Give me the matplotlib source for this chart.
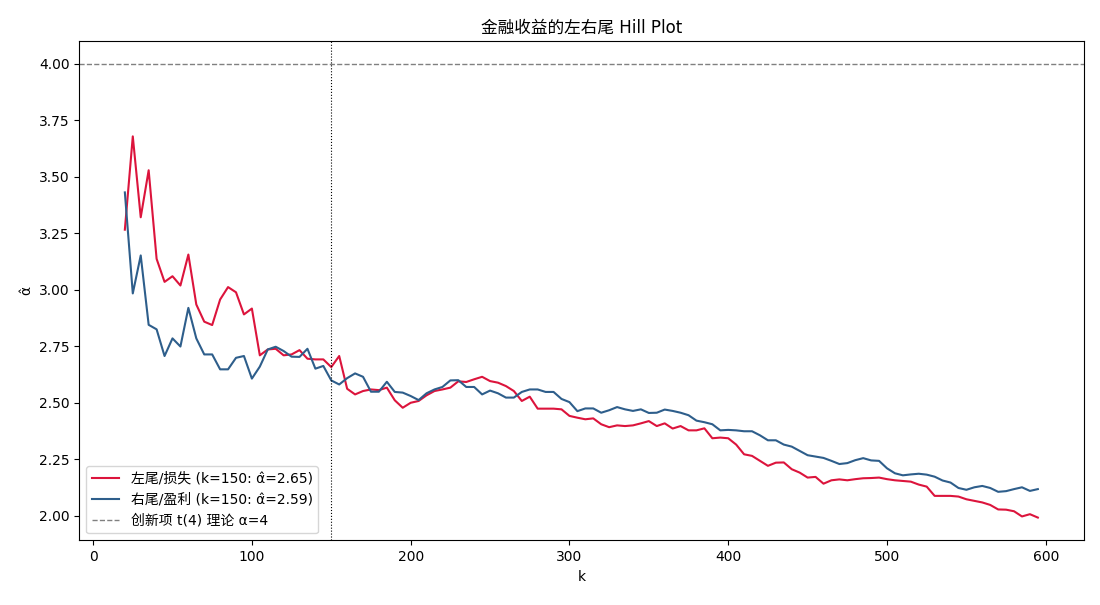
import numpy as np
import matplotlib
matplotlib.use('Agg')
import matplotlib.pyplot as plt

plt.rcParams['font.family'] = ['DejaVu Sans', 'Noto Sans CJK SC']
plt.rcParams['axes.unicode_minus'] = False

# k 从 20 到 595, 步长 5
k = np.arange(20, 600, 5)

# 左尾 / 损失 的 Hill 估计
left_alpha = [
    3.266, 3.679, 3.321, 3.529, 3.137, 3.035, 3.060, 3.019, 3.156, 2.935,
    2.859, 2.844, 2.957, 3.012, 2.989, 2.891, 2.917, 2.710, 2.736, 2.739,
    2.710, 2.714, 2.733, 2.695, 2.692, 2.692, 2.658, 2.707, 2.562, 2.537,
    2.552, 2.559, 2.556, 2.567, 2.511, 2.478, 2.500, 2.508, 2.533, 2.552,
    2.559, 2.567, 2.595, 2.592, 2.604, 2.615, 2.596, 2.589, 2.574, 2.552,
    2.508, 2.527, 2.474, 2.474, 2.474, 2.471, 2.442, 2.434, 2.427, 2.431,
    2.405, 2.392, 2.400, 2.397, 2.400, 2.409, 2.419, 2.397, 2.409, 2.386,
    2.397, 2.378, 2.378, 2.387, 2.343, 2.346, 2.343, 2.315, 2.272, 2.265,
    2.243, 2.221, 2.235, 2.236, 2.206, 2.191, 2.169, 2.172, 2.142, 2.157,
    2.161, 2.157, 2.162, 2.166, 2.167, 2.169, 2.162, 2.157, 2.154, 2.151,
    2.138, 2.129, 2.088, 2.088, 2.088, 2.085, 2.073, 2.066, 2.059, 2.048,
    2.028, 2.027, 2.020, 1.997, 2.007, 1.992,
]

# 右尾 / 盈利 的 Hill 估计
right_alpha = [
    3.431, 2.984, 3.152, 2.845, 2.825, 2.707, 2.785, 2.749, 2.920, 2.785,
    2.714, 2.714, 2.648, 2.648, 2.699, 2.707, 2.607, 2.660, 2.736, 2.748,
    2.729, 2.704, 2.703, 2.739, 2.651, 2.663, 2.599, 2.581, 2.609, 2.630,
    2.615, 2.549, 2.549, 2.593, 2.548, 2.545, 2.530, 2.512, 2.542, 2.559,
    2.570, 2.599, 2.600, 2.570, 2.570, 2.537, 2.554, 2.542, 2.523, 2.523,
    2.548, 2.559, 2.559, 2.548, 2.548, 2.517, 2.503, 2.463, 2.475, 2.475,
    2.456, 2.467, 2.481, 2.471, 2.464, 2.471, 2.455, 2.456, 2.470, 2.464,
    2.456, 2.445, 2.421, 2.414, 2.405, 2.378, 2.380, 2.378, 2.374, 2.374,
    2.356, 2.334, 2.334, 2.315, 2.306, 2.287, 2.268, 2.262, 2.256, 2.243,
    2.229, 2.233, 2.246, 2.255, 2.245, 2.243, 2.210, 2.188, 2.179, 2.183,
    2.186, 2.182, 2.173, 2.156, 2.147, 2.123, 2.115, 2.126, 2.132, 2.123,
    2.106, 2.109, 2.118, 2.126, 2.110, 2.118,
]

k_sel = 150
alpha_theory = 4

fig, ax = plt.subplots(figsize=(11, 6.05), dpi=100)
fig.subplots_adjust(left=0.072, right=0.985, top=0.932, bottom=0.107)

ax.plot(k, left_alpha, color='#DC143C', lw=1.5,
        label='左尾/损失 (k=150: α\u0302=2.65)')
ax.plot(k, right_alpha, color='#2E5E8B', lw=1.5,
        label='右尾/盈利 (k=150: α\u0302=2.59)')
ax.axhline(alpha_theory, color='gray', ls='--', lw=1,
           label='创新项 t(4) 理论 α=4')
ax.axvline(k_sel, color='black', ls=':', lw=0.8)

ax.set_title('金融收益的左右尾 Hill Plot')
ax.set_xlabel('k')
ax.set_ylabel('α\u0302')
ax.legend(loc='lower left')

fig.savefig('out.png')
